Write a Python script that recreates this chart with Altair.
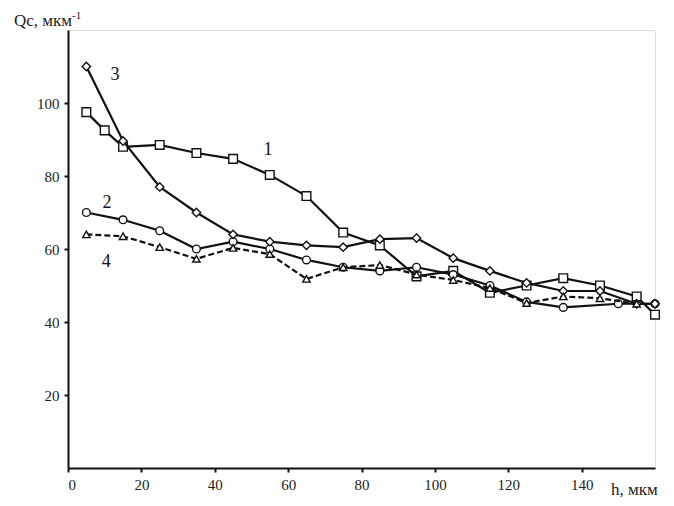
import altair as alt
import pandas as pd

# Series 1 (squares)
x1 = [5, 10, 15, 25, 35, 45, 55, 65, 75, 85, 95, 105, 115, 125, 135, 145, 155, 160]
y1 = [97.5, 92.5, 88, 88.5, 86.3, 84.7, 80.3, 74.5, 64.5, 61, 52.5, 54, 48, 50, 52, 50, 47, 42]
# Series 2 (circles)
x2 = [5, 15, 25, 35, 45, 55, 65, 75, 85, 95, 105, 115, 125, 135, 150, 160]
y2 = [70, 68, 65, 60, 62, 60, 57, 55, 54, 55, 53, 50, 45.5, 44, 45, 45]
# Series 3 (diamonds)
x3 = [5, 15, 25, 35, 45, 55, 65, 75, 85, 95, 105, 115, 125, 135, 145, 155, 160]
y3 = [110, 89.6, 77, 70, 64, 62, 61, 60.5, 62.7, 63, 57.5, 54, 50.7, 48.5, 48.5, 45, 45]
# Series 4 (triangles, dashed)
x4 = [5, 15, 25, 35, 45, 55, 65, 75, 85, 95, 105, 115, 125, 135, 145, 155]
y4 = [64, 63.5, 60.5, 57.3, 60.3, 58.6, 51.8, 55, 55.6, 53, 51.5, 49.3, 45.2, 47, 46.5, 45]

# Curve labels
lab_text = ["3", "1", "2", "4"]
lab_x = [12.8, 54.5, 10.6, 10.4]
lab_y = [107.7, 87, 72.6, 56.4]

FONT = "Liberation Serif, Times New Roman, serif"

xs = alt.Scale(domain=[0, 160], nice=False, zero=False)
ys = alt.Scale(domain=[0, 120], nice=False, zero=False)

axis_style = dict(title=None, grid=False, domain=True, domainColor="#111", domainWidth=2,
                  tickColor="#111", tickWidth=2, tickSize=4, labelFont=FONT,
                  labelFontSize=15, labelColor="#222", labelPadding=5)
xax = alt.Axis(values=[0, 20, 40, 60, 80, 100, 120, 140], **axis_style)
yax = alt.Axis(values=[20, 40, 60, 80, 100], **axis_style)


def series(xv, yv, shape, size, dash=None):
    df = pd.DataFrame({"x": xv, "y": yv})
    line_kwargs = dict(color="#111", strokeWidth=2.2)
    if dash:
        line_kwargs["strokeDash"] = dash
    ln = alt.Chart(df).mark_line(**line_kwargs).encode(
        x=alt.X("x:Q", scale=xs, axis=xax), y=alt.Y("y:Q", scale=ys, axis=yax))
    pt = alt.Chart(df).mark_point(shape=shape, size=size, filled=True, fill="white",
                                  stroke="#111", strokeWidth=1.4, opacity=1).encode(
        x=alt.X("x:Q", scale=xs, axis=xax), y=alt.Y("y:Q", scale=ys, axis=yax))
    return ln + pt


s1 = series(x1, y1, "square", 75)
s2 = series(x2, y2, "circle", 60)
s3 = series(x3, y3, "diamond", 70)
s4 = series(x4, y4, "triangle-up", 55, dash=[6, 3])

labs = alt.Chart(pd.DataFrame({"t": lab_text, "x": lab_x, "y": lab_y})).mark_text(
    font=FONT, fontSize=18, color="#111", baseline="middle", align="center").encode(
    x=alt.X("x:Q", scale=xs, axis=xax), y=alt.Y("y:Q", scale=ys, axis=yax), text="t:N")

ytitle = alt.Chart(pd.DataFrame({"t": ["Qc, мкм"]})).mark_text(
    font=FONT, fontSize=17, color="#222", align="left", baseline="alphabetic").encode(
    x=alt.value(-54), y=alt.value(-4), text="t:N")
ysup = alt.Chart(pd.DataFrame({"t": ["-1"]})).mark_text(
    font=FONT, fontSize=11, color="#222", align="left", baseline="alphabetic").encode(
    x=alt.value(4), y=alt.value(-11), text="t:N")
xtitle = alt.Chart(pd.DataFrame({"t": ["h, мкм"]})).mark_text(
    font=FONT, fontSize=17, color="#222", align="left", baseline="alphabetic").encode(
    x=alt.value(543), y=alt.value(465), text="t:N")

chart = alt.layer(s1, s2, s3, s4, labs, ytitle, ysup, xtitle).properties(
    width=587, height=438,
    autosize=alt.AutoSizeParams(type="none"),
    padding={"left": 60, "top": 22, "right": 10, "bottom": 30},
).configure_view(stroke="#111", strokeWidth=2).configure(background="white").configure_axis(
    labelFont=FONT, labelFontSize=15, labelColor="#222")

chart.save("out.html", embed_options={"renderer": "svg", "actions": False})
